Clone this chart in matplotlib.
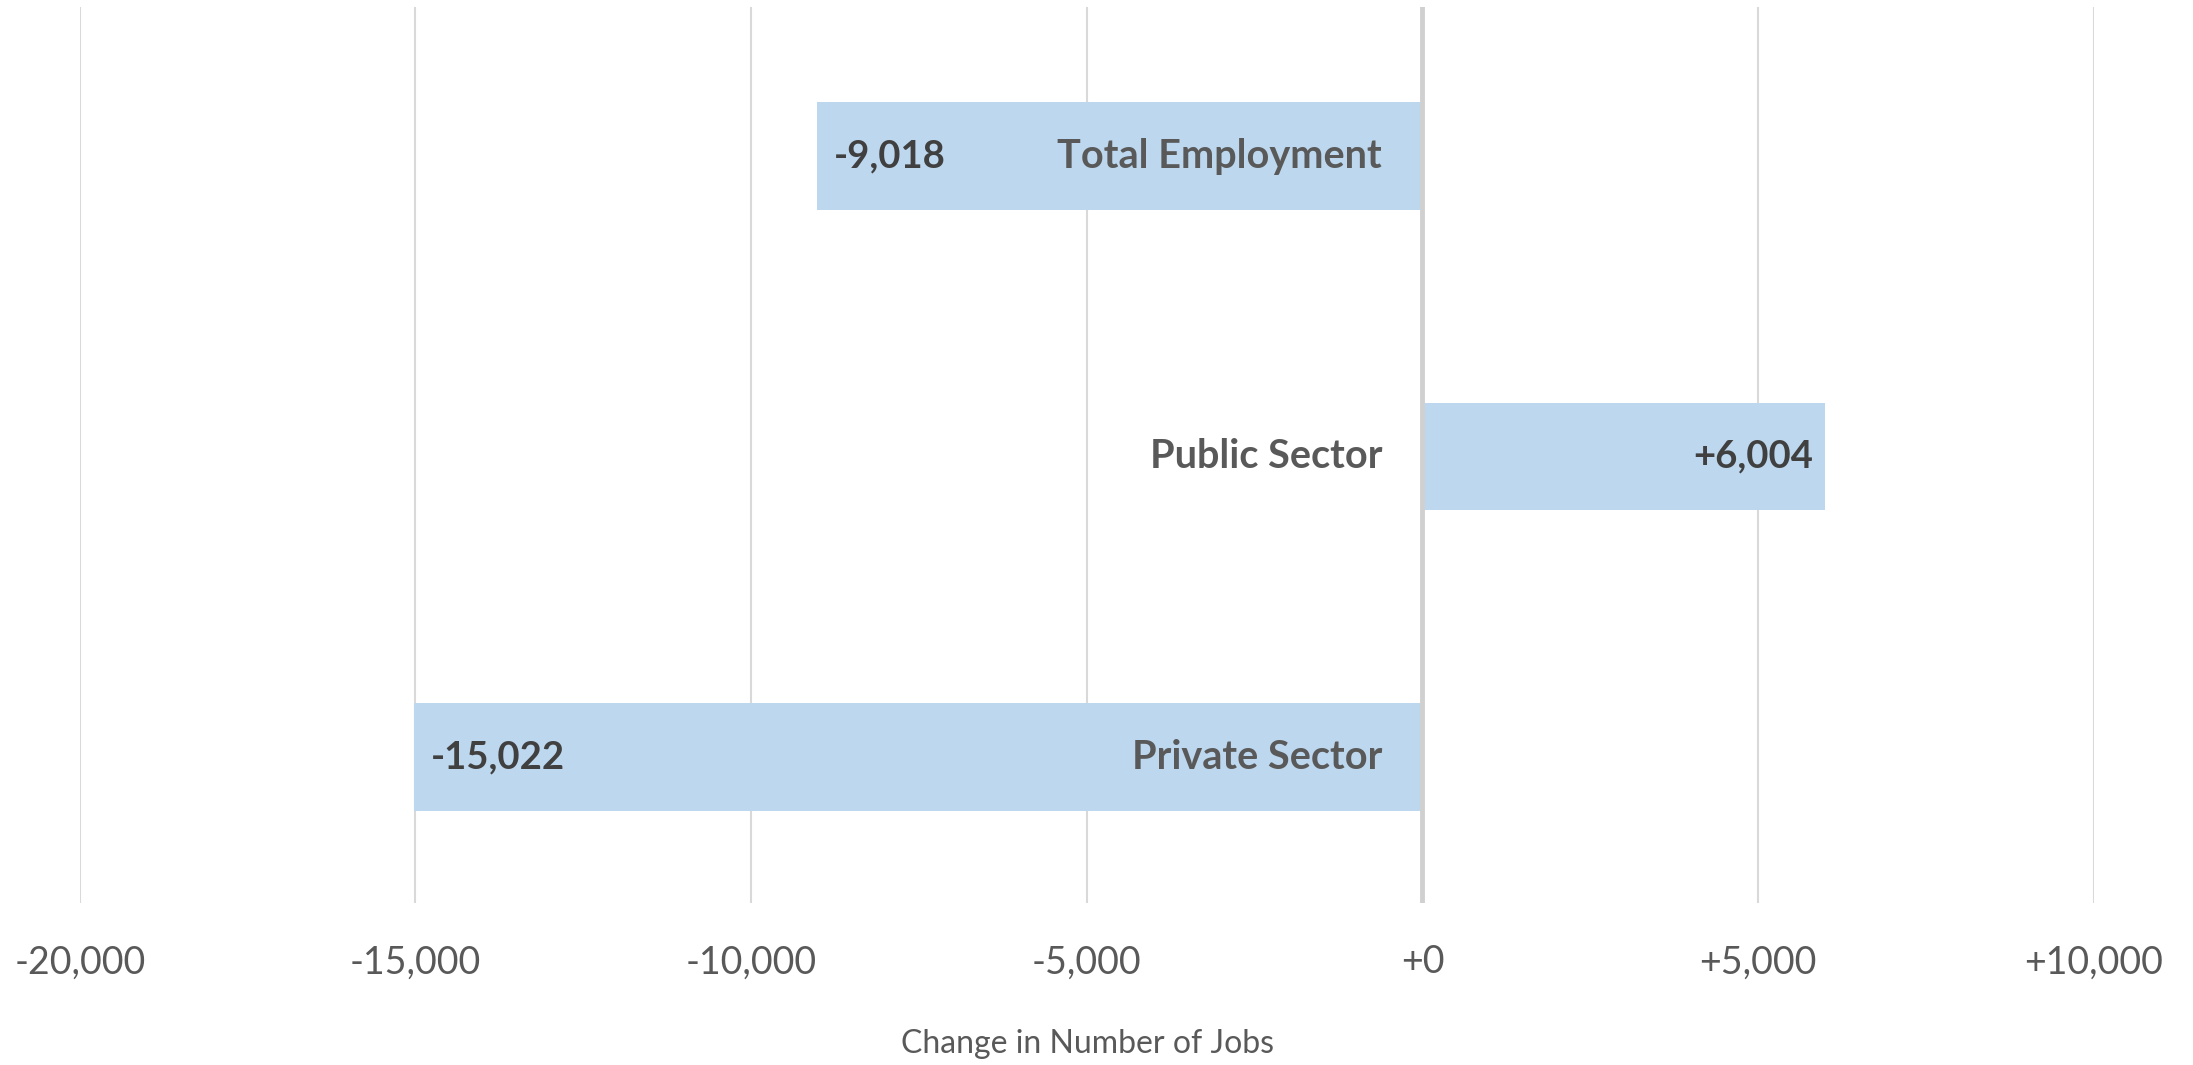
import matplotlib
matplotlib.use("Agg")
import matplotlib.pyplot as plt
from matplotlib.ticker import FixedLocator, FixedFormatter

categories = ["Private Sector", "Public Sector", "Total Employment"]
values = [-15022, 6004, -9018]
value_labels = ["-15,022", "+6,004", "-9,018"]
tick_values = [-20000, -15000, -10000, -5000, 0, 5000, 10000]
tick_labels = ["-20,000", "-15,000", "-10,000", "-5,000", "+0", "+5,000", "+10,000"]
axis_title = "Change in Number of Jobs"

plt.rcParams['font.family'] = ['Lato', 'DejaVu Sans']

fig = plt.figure(figsize=(21.93, 10.65), dpi=100)
ax = fig.add_axes([0.0364, 0.1524, 0.9547 - 0.0364, 0.9934 - 0.1524])

ypos = list(range(len(categories)))
ax.barh(ypos, values, height=0.358, color="#BDD7EE", zorder=2)

ax.set_xlim(tick_values[0], tick_values[-1])
ax.set_ylim(-0.484, len(categories) - 0.504)
ax.xaxis.set_major_locator(FixedLocator(tick_values))
ax.xaxis.set_major_formatter(FixedFormatter(tick_labels))
ax.set_yticks([])
ax.grid(axis="x", color="#d9d9d9", linewidth=1.5, zorder=0)
ax.axvline(0, color="#d0d0d0", linewidth=3.5, zorder=3)
for s in ax.spines.values():
    s.set_visible(False)
ax.tick_params(axis="x", length=0, pad=30, labelsize=27, labelcolor="#595959")

for y, v, lab, cat in zip(ypos, values, value_labels, categories):
    if v < 0:
        ax.annotate(lab, xy=(v, y), xytext=(12, 0), textcoords="offset points",
                    ha="left", va="center", fontsize=27.5, fontweight="bold",
                    color="#404040", zorder=4)
    else:
        ax.annotate(lab, xy=(v, y), xytext=(-9, 0), textcoords="offset points",
                    ha="right", va="center", fontsize=27.5, fontweight="bold",
                    color="#404040", zorder=4)
    ax.annotate(cat, xy=(0, y), xytext=(-29, 0), textcoords="offset points",
                ha="right", va="center", fontsize=28.5, fontweight="bold",
                color="#595959", zorder=4)

fig.text(0.496, 0.0197, axis_title, ha="center", va="center", fontsize=23, color="#595959")

fig.savefig("out.png", dpi=100)
